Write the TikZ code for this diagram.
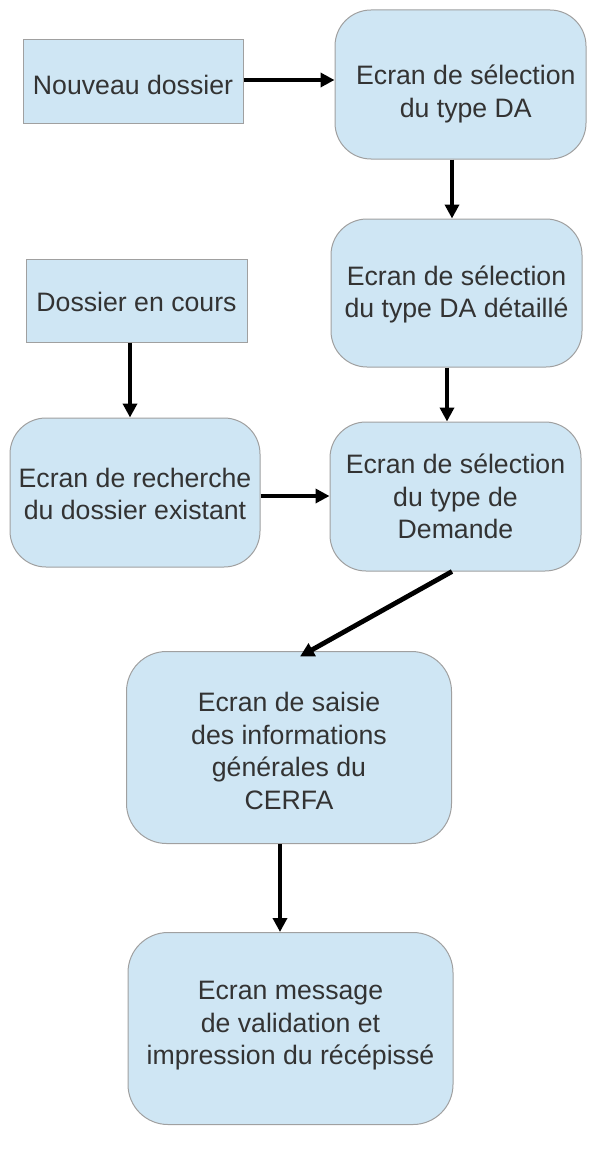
\documentclass[tikz,border=0pt]{standalone}
\usepackage{fontspec}
\setmainfont{Liberation Sans}
\usetikzlibrary{arrows.meta,calc}
\definecolor{boxfill}{HTML}{CFE6F4}
\definecolor{boxline}{HTML}{A0A0A0}
\definecolor{txt}{HTML}{333333}
\begin{document}
\begin{tikzpicture}[x=0.75pt,y=-0.75pt,
  base/.style={draw=boxline,line width=0.75pt,fill=boxfill,inner sep=0pt},
  tx/.style={text=txt,align=center,inner sep=0pt,font=\fontsize{20}{24.5}\selectfont},
  sqbox/.style={base},
  rbox/.style={base,rounded corners=27pt},
  bigbox/.style={base,rounded corners=30pt},
  link/.style={line width=3.6pt,-{Triangle[width=10.5pt,length=10.5pt]}}]
\useasboundingbox (0,0) rectangle (600,1156);
\node[sqbox,minimum width=165pt,minimum height=62.25pt,
  label={[tx,yshift=-2.5pt]center:Nouveau dossier}] (n1) at (133,81.5) {};
\node[rbox,minimum width=188.25pt,minimum height=111.75pt,
  label={[tx,yshift=-7pt,xshift=4pt]center:Ecran de sélection\\du type DA}] (n2) at (460.5,84.5) {};
\node[rbox,minimum width=188.25pt,minimum height=111pt,
  label={[tx,yshift=-1pt]center:Ecran de sélection\\du type DA détaillé}] (n3) at (456.5,293) {};
\node[sqbox,minimum width=165.75pt,minimum height=62.25pt,
  label={[tx,yshift=-1pt]center:Dossier en cours}] (n4) at (136.5,300.5) {};
\node[rbox,minimum width=187.5pt,minimum height=111.75pt,
  label={[tx,yshift=-1pt]center:Ecran de recherche\\du dossier existant}] (n5) at (135,492.5) {};
\node[rbox,minimum width=188.25pt,minimum height=111.75pt,
  label={[tx]center:Ecran de sélection\\du type de\\ Demande}] (n6) at (455.5,496.5) {};
\node[bigbox,minimum width=243.75pt,minimum height=144pt,
  label={[tx,yshift=-2.5pt]center:Ecran de saisie\\des informations\\générales du\\ CERFA}] (n7) at (289,747.5) {};
\node[bigbox,minimum width=243.75pt,minimum height=144pt,
  label={[tx,yshift=2pt]center:Ecran message\\de validation et\\ impression du récépissé}] (n8) at (290.5,1028.5) {};
\draw[link] ($(n1.east)+(0,-1.5)$) -- ($(n2.west)+(0,-4.5)$);
\draw[link] ($(n2.south)+(-8.5,0)$) -- ($(n3.north)+(-4.5,0)$);
\draw[link] ($(n4.south)+(-6.5,0)$) -- ($(n5.north)+(-5,0)$);
\draw[link] ($(n3.south)+(-9.5,0)$) -- ($(n6.north)+(-8.5,0)$);
\draw[link] ($(n5.east)+(0,3.5)$) -- ($(n6.west)+(0,-0.5)$);
\draw[link] ($(n6.south)+(-3.5,0)$) -- ($(n7.north)+(11,5.5)$);
\draw[link] ($(n7.south)+(-9,0)$) -- ($(n8.north)+(-10.5,0)$);
\end{tikzpicture}
\end{document}
